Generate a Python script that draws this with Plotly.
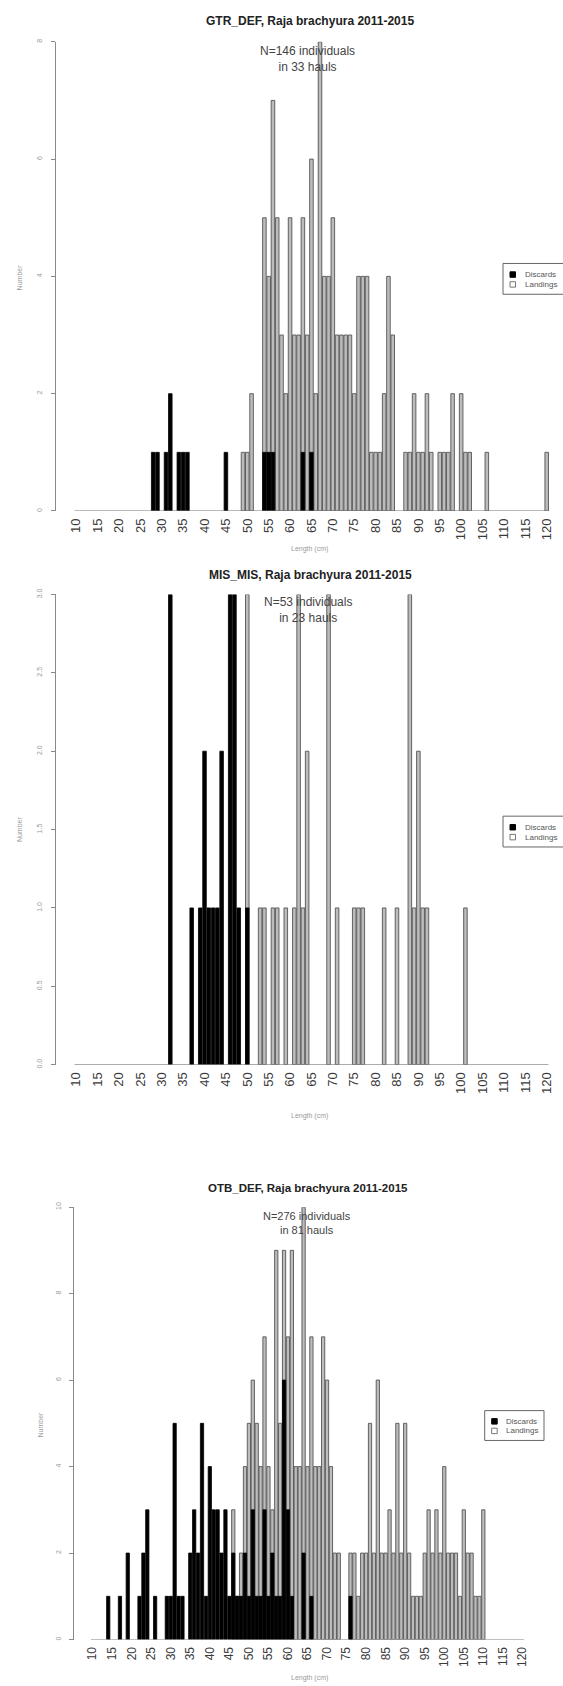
import plotly.graph_objects as go

# ---------------------------------------------------------------------------
# Length-frequency data (number of individuals per 1 cm length class)
# ---------------------------------------------------------------------------
LENGTH_TICKS = list(range(10, 125, 5))

# GTR_DEF
gtr_disc_len = [28, 29, 31, 32, 34, 35, 36, 45, 54, 55, 56, 63, 65]
gtr_disc_n = [1, 1, 1, 2, 1, 1, 1, 1, 1, 1, 1, 1, 1]
gtr_land_len = [49, 50, 51, 54, 55, 56, 57, 58, 59, 60, 61, 62, 63, 64, 65, 66, 67,
                68, 69, 70, 71, 72, 73, 74, 75, 76, 77, 78, 79, 80, 81, 82, 83, 84,
                87, 88, 89, 90, 91, 92, 93, 95, 96, 97, 98, 100, 101, 102, 106, 120]
gtr_land_n = [1, 1, 2, 5, 4, 7, 5, 3, 2, 5, 3, 3, 5, 3, 6, 2, 8,
              4, 4, 5, 3, 3, 3, 3, 2, 4, 4, 4, 1, 1, 1, 2, 4, 3,
              1, 1, 2, 1, 1, 2, 1, 1, 1, 1, 2, 2, 1, 1, 1, 1]

# MIS_MIS
mis_disc_len = [32, 37, 39, 40, 41, 42, 43, 44, 46, 47, 48, 50]
mis_disc_n = [3, 1, 1, 2, 1, 1, 1, 2, 3, 3, 1, 1]
mis_land_len = [50, 53, 54, 56, 57, 59, 61, 62, 63, 64, 69, 71, 75, 76, 77, 82,
                85, 88, 89, 90, 91, 92, 101]
mis_land_n = [3, 1, 1, 1, 1, 1, 1, 3, 1, 2, 3, 1, 1, 1, 1, 1,
              1, 3, 1, 2, 1, 1, 1]

# OTB_DEF
otb_disc_len = [14, 17, 19, 22, 23, 24, 26, 29, 30, 31, 32, 33, 35, 36, 37, 38,
                39, 40, 41, 42, 43, 44, 45, 46, 47, 48, 49, 50, 51, 52, 53, 54,
                55, 56, 57, 58, 59, 60, 61, 64, 66, 76]
otb_disc_n = [1, 1, 2, 1, 2, 3, 1, 1, 1, 5, 1, 1, 2, 3, 2, 5,
              1, 4, 3, 3, 2, 3, 1, 2, 1, 1, 2, 1, 3, 1, 1, 3,
              1, 2, 1, 1, 6, 3, 1, 2, 1, 1]
otb_land_len = [46, 47, 48, 49, 50, 51, 52, 53, 54, 55, 56, 57, 58, 59, 60, 61,
                62, 63, 64, 65, 66, 67, 68, 69, 70, 71, 72, 73,
                76, 77, 78, 79, 80, 81, 82, 83, 84, 85, 86, 87, 88, 89, 90, 91,
                92, 93, 94, 95, 96, 97, 98, 99, 100, 101, 102, 103, 104, 105,
                106, 107, 108, 109, 110]
otb_land_n = [3, 1, 2, 4, 5, 6, 5, 4, 7, 4, 3, 9, 5, 9, 7, 9,
              4, 4, 10, 4, 7, 4, 4, 7, 6, 4, 2, 2,
              2, 2, 1, 2, 2, 5, 2, 6, 2, 2, 3, 2, 5, 2, 5, 2,
              1, 1, 1, 2, 3, 2, 3, 2, 4, 2, 2, 2, 1, 3,
              2, 2, 1, 1, 3]

# ---------------------------------------------------------------------------
W, H = 563, 1686
FONT = "Liberation Sans, Arial, sans-serif"
LAND_FILL = "#bcbcbc"
LAND_EDGE = "#555555"
DISC = "#000000"
BAR_W = 1 / 1.2


def fx(px):
    return px / W


def fy(py):
    return 1 - py / H


panels = [
    dict(title="GTR_DEF, Raja brachyura 2011-2015",
         note="N=146 individuals<br>in 33 hauls",
         disc=(gtr_disc_len, gtr_disc_n), land=(gtr_land_len, gtr_land_n),
         axis_x=56, x10=76.2, x120=546.7, y0=508, ytop=36, ymax=8,
         yticks=[0, 2, 4, 6, 8], ytext=["0", "2", "4", "6", "8"],
         title_xy=(310, 15), note_xy=(308, 53), note_size=12, title_size=12,
         xlab_y=546, ylab_xy=(19, 273), ytick_size=7,
         legend=(503, 259, 575, 290), tick_size=13),
    dict(title="MIS_MIS, Raja brachyura 2011-2015",
         note="N=53 individuals<br>in 23 hauls",
         disc=(mis_disc_len, mis_disc_n), land=(mis_land_len, mis_land_n),
         axis_x=56, x10=76.2, x120=546.7, y0=1065, ytop=592, ymax=3,
         yticks=[0, 0.5, 1, 1.5, 2, 2.5, 3],
         ytext=["0.0", "0.5", "1.0", "1.5", "2.0", "2.5", "3.0"],
         title_xy=(310, 572), note_xy=(308, 608), note_size=12, title_size=12,
         xlab_y=1117, ylab_xy=(19, 828), ytick_size=7,
         legend=(503, 815, 575, 846), tick_size=13),
    dict(title="OTB_DEF, Raja brachyura 2011-2015",
         note="N=276 individuals<br>in 81 hauls",
         disc=(otb_disc_len, otb_disc_n), land=(otb_land_len, otb_land_n),
         axis_x=74.3, x10=92.6, x120=522.4, y0=1643.3, ytop=1208.3, ymax=10,
         yticks=[0, 2, 4, 6, 8, 10], ytext=["0", "2", "4", "6", "8", "10"],
         title_xy=(308, 1189), note_xy=(307, 1224), note_size=11, title_size=11.5,
         xlab_y=1682, ylab_xy=(41, 1427), ytick_size=7,
         legend=(484.7, 1413, 544, 1443), tick_size=12),
]

fig = go.Figure()
layout = {}
shapes = []
annotations = []

for i, p in enumerate(panels, start=1):
    xa = "x" if i == 1 else f"x{i}"
    ya = "y" if i == 1 else f"y{i}"
    xkey = "xaxis" if i == 1 else f"xaxis{i}"
    ykey = "yaxis" if i == 1 else f"yaxis{i}"

    land_len, land_n = p["land"]
    disc_len, disc_n = p["disc"]

    fig.add_trace(go.Bar(
        x=land_len, y=land_n, width=BAR_W, xaxis=xa, yaxis=ya,
        name="Landings", showlegend=False,
        marker=dict(color=LAND_FILL, line=dict(color=LAND_EDGE, width=0.9)),
    ))
    fig.add_trace(go.Bar(
        x=disc_len, y=disc_n, width=BAR_W, xaxis=xa, yaxis=ya,
        name="Discards", showlegend=False,
        marker=dict(color=DISC, line=dict(color=DISC, width=0.8)),
    ))

    pitch = (p["x120"] - p["x10"]) / 110.0
    x_lo = 10 - (p["x10"] - p["axis_x"]) / pitch
    x_hi = 120 + (W - p["x120"]) / pitch

    layout[xkey] = dict(
        domain=[fx(p["axis_x"]), 1.0], range=[x_lo, x_hi], anchor=ya,
        tickvals=LENGTH_TICKS, ticktext=[str(v) for v in LENGTH_TICKS],
        tickangle=-90, ticks="", showgrid=False, zeroline=False, showline=False,
        ticklabelstandoff=4,
        tickfont=dict(size=p["tick_size"], color="#3a3a3a", family=FONT),
    )
    layout[ykey] = dict(
        domain=[fy(p["y0"]), fy(p["ytop"])], range=[0, p["ymax"]], anchor=xa,
        tickvals=p["yticks"], ticktext=p["ytext"], tickangle=-90,
        ticks="outside", ticklen=4, tickcolor="#8a8a8a", tickwidth=1,
        showline=True, linecolor="#8a8a8a", linewidth=1,
        showgrid=False, zeroline=False, ticklabelstandoff=6,
        tickfont=dict(size=p["ytick_size"], color="#999999", family=FONT),
    )

    # baseline under the bars
    shapes.append(dict(type="line", xref=xa, yref=ya, x0=9.6, x1=120.4, y0=0, y1=0,
                       line=dict(color="#7a7a7a", width=1)))

    # title and sample-size note
    tx, ty = p["title_xy"]
    annotations.append(dict(
        text=f"<b>{p['title']}</b>", x=fx(tx), y=fy(ty), xref="paper", yref="paper",
        xanchor="center", yanchor="middle", showarrow=False,
        font=dict(size=p["title_size"], color="#222222", family=FONT)))
    nx, ny = p["note_xy"]
    annotations.append(dict(
        text=p["note"], x=fx(nx), y=fy(ny), xref="paper", yref="paper",
        xanchor="center", yanchor="middle", showarrow=False,
        font=dict(size=p["note_size"], color="#444444", family=FONT)))

    # axis titles
    annotations.append(dict(
        text="Length (cm)", x=fx(309), y=fy(p["xlab_y"]), xref="paper", yref="paper",
        xanchor="center", yanchor="middle", showarrow=False,
        font=dict(size=7, color="#9a9a9a", family=FONT)))
    lx, ly = p["ylab_xy"]
    annotations.append(dict(
        text="Number", x=fx(lx), y=fy(ly), xref="paper", yref="paper", textangle=-90,
        xanchor="center", yanchor="middle", showarrow=False,
        font=dict(size=7, color="#9a9a9a", family=FONT)))

    # legend box
    bx0, by0, bx1, by1 = p["legend"]
    shapes.append(dict(type="rect", xref="paper", yref="paper",
                       x0=fx(bx0), x1=fx(bx1), y0=fy(by1), y1=fy(by0),
                       line=dict(color="#666666", width=1), fillcolor="white"))
    row1 = by0 + (by1 - by0) * 0.36
    row2 = by0 + (by1 - by0) * 0.68
    sq = 5.5
    sx = bx0 + 7
    shapes.append(dict(type="rect", xref="paper", yref="paper",
                       x0=fx(sx), x1=fx(sx + sq), y0=fy(row1 + sq / 2), y1=fy(row1 - sq / 2),
                       line=dict(color="#000000", width=1), fillcolor="#000000"))
    shapes.append(dict(type="rect", xref="paper", yref="paper",
                       x0=fx(sx), x1=fx(sx + sq), y0=fy(row2 + sq / 2), y1=fy(row2 - sq / 2),
                       line=dict(color="#777777", width=1), fillcolor="white"))
    for label, ry in (("Discards", row1), ("Landings", row2)):
        annotations.append(dict(
            text=label, x=fx(sx + sq + 7), y=fy(ry), xref="paper", yref="paper",
            xanchor="left", yanchor="middle", showarrow=False,
            font=dict(size=8, color="#555555", family=FONT)))

fig.update_layout(
    width=W, height=H, margin=dict(l=0, r=0, t=0, b=0),
    paper_bgcolor="white", plot_bgcolor="white",
    barmode="overlay", showlegend=False,
    font=dict(family=FONT),
    shapes=shapes, annotations=annotations,
    **layout,
)

fig.write_html("out.html")
